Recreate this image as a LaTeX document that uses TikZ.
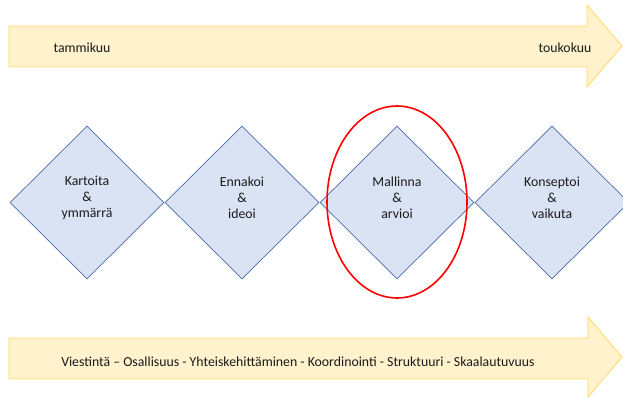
\documentclass[tikz,border=0pt]{standalone}
\usepackage{fontspec}
\setmainfont{Carlito}
\usetikzlibrary{shapes.geometric}
\definecolor{arrowfill}{HTML}{FFF2CC}
\definecolor{arrowline}{HTML}{FFD966}
\definecolor{phasefill}{HTML}{DAE3F3}
\definecolor{phaseline}{HTML}{4A6CA8}
\definecolor{textdark}{HTML}{1A1A1A}
\tikzset{
  timeband/.style={fill=arrowfill, draw=arrowline, line width=0.8pt, line join=miter},
  bandtext/.style={font=\fontsize{13.8}{16}\selectfont, text=textdark, inner sep=0pt, anchor=center},
  phase/.style={shape=diamond, fill=phasefill, draw=phaseline, line width=0.7pt,
    minimum width=154pt, minimum height=153pt, inner sep=0pt},
  phasetext/.style={font=\fontsize{13.8}{16}\selectfont, text=textdark, align=center, inner sep=0pt},
  focus/.style={shape=ellipse, draw=red, line width=1.6pt, minimum width=140pt,
    minimum height=192pt, inner sep=0pt}
}
\begin{document}
\begin{tikzpicture}[x=1pt, y=-1pt]
  \useasboundingbox (0,0) rectangle (623,398);

  % timeline arrow: January to May
  \draw[timeband] (9,26) -- (587,26) -- (587,5) -- (622,46) -- (587,87)
    -- (587,67) -- (9,67) -- cycle;
  \node[bandtext] (jan) at (82,48) {tammikuu};
  \node[bandtext] (may) at (565,48) {toukokuu};

  % four phases
  \node[phase] (p1) at (87,202.5) {};
  \node[phase] (p2) at (242,202.5) {};
  \node[phase] (p3) at (397,202.5) {};
  \node[phase] (p4) at (552,202.5) {};
  \node[phasetext] (t1) at ([yshift=5pt]p1.center) {Kartoita\\\&\\ymmärrä};
  \node[phasetext] (t2) at ([yshift=5pt]p2.center) {Ennakoi\\\&\\ideoi};
  \node[phasetext] (t3) at ([yshift=5pt]p3.center) {Mallinna\\\&\\arvioi};
  \node[phasetext] (t4) at ([yshift=5pt]p4.center) {Konseptoi\\\&\\vaikuta};

  % highlighted current phase
  \node[focus] (hl) at (397,202) {};

  % cross-cutting themes arrow
  \draw[timeband] (9,338) -- (588,338) -- (588,317) -- (622,357) -- (588,397)
    -- (588,379) -- (9,379) -- cycle;
  \node[bandtext] (themes) at (298,362) {Viestintä – Osallisuus - Yhteiskehittäminen - Koordinointi - Struktuuri - Skaalautuvuus};
\end{tikzpicture}
\end{document}
